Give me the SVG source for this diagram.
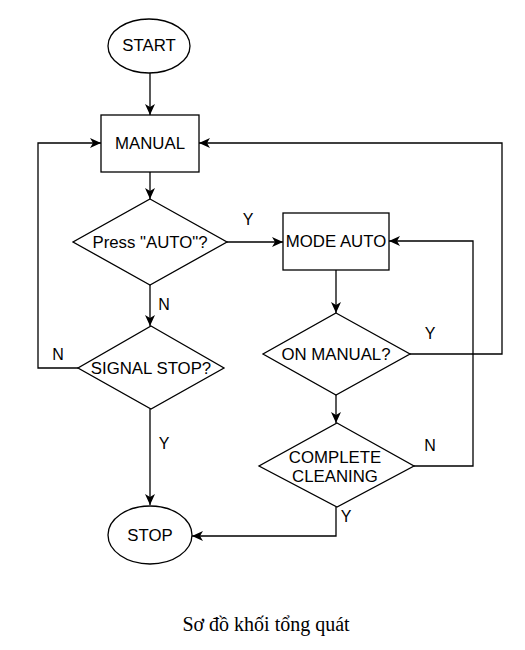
<svg xmlns="http://www.w3.org/2000/svg" width="525" height="650" viewBox="0 0 525 650">
<style>
.shape{fill:#fff;stroke:#000;stroke-width:1.3}
.edge{fill:none;stroke:#000;stroke-width:1.3}
.t{font-family:"Liberation Sans",Arial,sans-serif;font-size:16.8px;fill:#000;text-anchor:middle;dominant-baseline:central}
.lbl{font-family:"Liberation Sans",Arial,sans-serif;font-size:16px;fill:#000;text-anchor:middle;dominant-baseline:central}
.cap{font-family:"Liberation Serif","Times New Roman",serif;font-size:20px;fill:#000;text-anchor:middle}
</style>
<defs>
<marker id="arr" markerUnits="userSpaceOnUse" markerWidth="12" markerHeight="10" refX="11" refY="5" orient="auto">
<path d="M0,0 L11,5 L0,10 L3,5 z" fill="#000"/>
</marker>
</defs>
<rect width="525" height="650" fill="#fff"/>
<g id="connectors">
<path class="edge" d="M150,73 L150,115" marker-end="url(#arr)"/>
<path class="edge" d="M150,172 L150,199" marker-end="url(#arr)"/>
<path class="edge" d="M227,242 L283,242" marker-end="url(#arr)"/>
<path class="edge" d="M150,285 L150,326" marker-end="url(#arr)"/>
<path class="edge" d="M78,368 L38,368 L38,143 L101,143" marker-end="url(#arr)"/>
<path class="edge" d="M150,409 L150,505" marker-end="url(#arr)"/>
<path class="edge" d="M336,270 L336,313" marker-end="url(#arr)"/>
<path class="edge" d="M410,354 L502,354 L502,143 L199,143" marker-end="url(#arr)"/>
<path class="edge" d="M336,395 L336,423" marker-end="url(#arr)"/>
<path class="edge" d="M414,466 L473,466 L473,241 L389,241" marker-end="url(#arr)"/>
<path class="edge" d="M336,507 L336,536 L192,536" marker-end="url(#arr)"/>
<text class="lbl" x="248" y="219">Y</text>
<text class="lbl" x="164" y="304">N</text>
<text class="lbl" x="58" y="354">N</text>
<text class="lbl" x="164" y="443">Y</text>
<text class="lbl" x="430" y="333">Y</text>
<text class="lbl" x="430" y="445">N</text>
<text class="lbl" x="346" y="516">Y</text>
</g>
<g id="start">
<ellipse class="shape" cx="149" cy="46" rx="41" ry="27"/>
<text class="t" x="149" y="45">START</text>
</g>
<g id="manual">
<rect class="shape" x="101" y="115" width="98" height="57"/>
<text class="t" x="150" y="143">MANUAL</text>
</g>
<g id="press-auto">
<polygon class="shape" points="150,199 227,242 150,285 73,242"/>
<text class="t" x="150" y="242">Press "AUTO"?</text>
</g>
<g id="signal-stop">
<polygon class="shape" points="151,326 224,368 151,409 78,368"/>
<text class="t" x="151" y="368">SIGNAL STOP?</text>
</g>
<g id="mode-auto">
<rect class="shape" x="283" y="213" width="106" height="57"/>
<text class="t" x="336" y="241">MODE AUTO</text>
</g>
<g id="on-manual">
<polygon class="shape" points="336,313 410,354 336,395 263,354"/>
<text class="t" x="336" y="354">ON MANUAL?</text>
</g>
<g id="complete-cleaning">
<polygon class="shape" points="337,423 414,466 337,507 259,466"/>
<text class="t" x="335" y="457">COMPLETE</text>
<text class="t" x="335" y="476">CLEANING</text>
</g>
<g id="stop">
<ellipse class="shape" cx="150" cy="535" rx="42" ry="29"/>
<text class="t" x="150" y="535">STOP</text>
</g>
<text class="cap" x="266" y="631">Sơ đồ khối tổng quát</text>
</svg>
